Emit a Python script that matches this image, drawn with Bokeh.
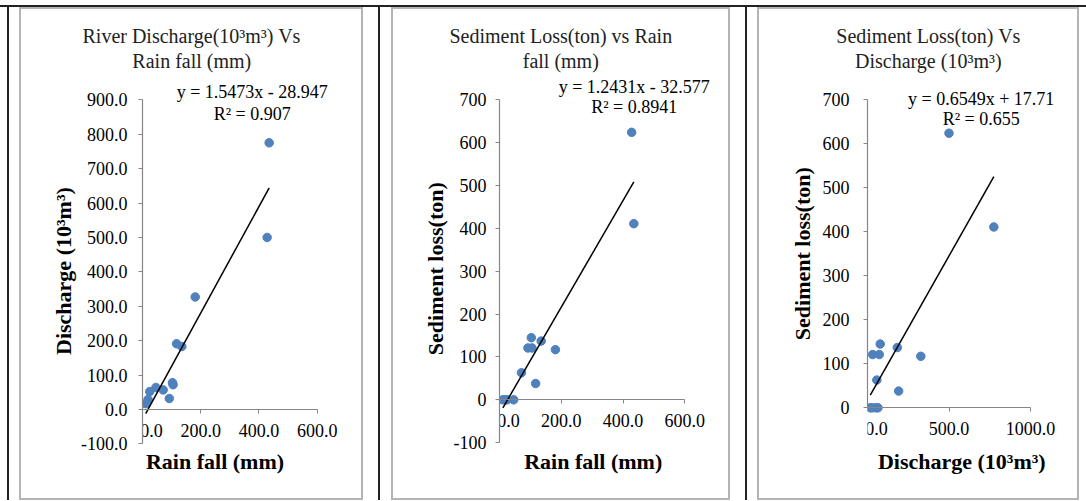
from bokeh.plotting import figure
from bokeh.models import Label, Title, FixedTicker, NumeralTickFormatter, Range1d, Div, Spacer
from bokeh.layouts import row, column
from bokeh.embed import file_html
from bokeh.resources import INLINE

# ---------------- data ----------------
rain = [435, 428, 181, 135, 117, 105, 103, 92, 71, 46, 25, 19, 11]
discharge = [775, 500, 327, 183, 191, 72, 78, 32, 57, 64, 52, 29, 17]
sediment = [411, 624, 117, 137, 38, 121, 145, 121, 63, 0, 0, 0, 0]

titles = [["River Discharge(10³m³) Vs", "Rain fall (mm)"],
          ["Sediment Loss(ton) vs Rain", "fall (mm)"],
          ["Sediment Loss(ton) Vs", "Discharge (10³m³)"]]
x_labels = ["Rain fall (mm)", "Rain fall (mm)", "Discharge (10³m³)"]
y_labels = ["Discharge (10³m³)", "Sediment loss(ton)", "Sediment loss(ton)"]

slopes = [1.5473, 1.2431, 0.6549]
intercepts = [-28.947, -32.577, 17.71]
equations = ["y = 1.5473x - 28.947", "y = 1.2431x - 32.577", "y = 0.6549x + 17.71"]
r2_texts = ["R² = 0.907", "R² = 0.8941", "R² = 0.655"]

x_ticks = [[0, 200, 400, 600], [0, 200, 400, 600], [0, 500, 1000]]
y_ticks = [[-100, 0, 100, 200, 300, 400, 500, 600, 700, 800, 900],
           [-100, 0, 100, 200, 300, 400, 500, 600, 700],
           [0, 100, 200, 300, 400, 500, 600, 700]]
x_bounds = [(0, 600), (0, 600), (0, 1000)]
y_bounds = [(-100, 900), (-100, 700), (0, 700)]
x_formats = ["0.0", "0.0", "0.0"]
y_formats = ["0.0", "0", "0"]

xs_data = [rain, rain, discharge]
ys_data = [discharge, sediment, sediment]

# ---------------- styling / layout ----------------
SERIF = "Liberation Serif"
DOT = "#4F81BD"
AXIS = "#868686"
GRAY = "#B4B4B4"
DARK = "#222222"

# Times / Liberation Serif advance widths (em/1000) used to place titles
_W_REG = {" ": 250, "(": 333, ")": 333, ".": 250, "-": 333, "³": 300, "²": 300, "=": 564,
          "A": 722, "D": 722, "L": 611, "R": 667, "S": 556, "V": 722, "a": 444, "c": 444,
          "d": 500, "e": 444, "f": 333, "g": 500, "h": 500, "i": 278, "l": 278, "m": 778,
          "n": 500, "o": 500, "r": 333, "s": 389, "t": 278, "v": 500, "x": 500, "y": 500}
_W_BOLD = {" ": 250, "(": 333, ")": 333, ".": 250, "³": 300, "D": 722, "R": 722, "S": 556,
           "a": 500, "c": 444, "d": 556, "e": 444, "f": 333, "g": 500, "h": 556, "i": 278,
           "l": 278, "m": 833, "n": 556, "o": 500, "r": 444, "s": 389, "t": 333}


def text_w(s, size, bold=False):
    tbl = _W_BOLD if bold else _W_REG
    return sum(tbl.get(c, 500) for c in s) / 1000 * size


FY, FH = 9, 489          # page y of figures, figure height
FT, FB = 72, 445         # page y of frame top / bottom

geoms = [
    dict(fx=21, fw=340, x0p=142, sx=0.2912, y0p=409.0, sy=0.3441, ytick_sd=11, ylab_sd=5,
         ylab_top=186.7, title_c=191.3, eq=(251.7, 91.7, 113.3), xlab_c=214.5),
    dict(fx=393, fw=335, x0p=499, sx=0.3088, y0p=399.3, sy=0.4286, ytick_sd=9, ylab_sd=6,
         ylab_top=181.7, title_c=560.3, eq=(633.7, 86.0, 106.0), xlab_c=592.7),
    dict(fx=759, fw=318, x0p=867, sx=0.1630, y0p=407.3, sy=0.4400, ytick_sd=14, ylab_sd=10,
         ylab_top=166.7, title_c=928.0, eq=(980.7, 98.3, 118.3), xlab_c=961.3),
]


def make_panel(i):
    g = geoms[i]
    right_page = g["fx"] + g["fw"]

    def X(px):
        return (px - g["x0p"]) / g["sx"]

    def Y(py):
        return (g["y0p"] - py) / g["sy"]

    p = figure(width=g["fw"], height=FH,
               x_range=Range1d(0, X(right_page)), y_range=Range1d(Y(FB), Y(FT)),
               output_backend="svg", toolbar_location=None,
               min_border_left=g["x0p"] - g["fx"], min_border_right=0,
               min_border_top=FT - FY, min_border_bottom=FY + FH - FB)
    p.outline_line_color = None
    p.grid.visible = False
    p.background_fill_color = "white"
    p.border_fill_color = "white"

    xa = p.xaxis[0]
    ya = p.yaxis[0]
    xa.fixed_location = 0
    xa.bounds = x_bounds[i]
    ya.bounds = y_bounds[i]
    for ax in (xa, ya):
        ax.axis_line_color = AXIS
        ax.axis_line_width = 1.2
        ax.major_tick_line_color = AXIS
        ax.minor_tick_line_color = None
        ax.major_tick_in = 0
        ax.major_tick_out = 4
        ax.major_label_text_font = SERIF
        ax.major_label_text_font_size = "18px"
        ax.major_label_text_color = "black"
    xa.ticker = FixedTicker(ticks=x_ticks[i])
    ya.ticker = FixedTicker(ticks=y_ticks[i])
    xa.formatter = NumeralTickFormatter(format=x_formats[i])
    ya.formatter = NumeralTickFormatter(format=y_formats[i])
    # the 0.0 label sits on the y axis; pad it so it is not cut by the plot edge
    xa.major_label_overrides = {0: "\u2007\u20070.0"}
    xa.major_label_standoff = 7
    ya.major_label_standoff = g["ytick_sd"]

    # data
    xs = xs_data[i]
    ys = ys_data[i]
    p.scatter(xs, ys, size=8.5, fill_color=DOT, line_color=DOT)
    lo, hi = min(xs), max(xs)
    p.line([lo, hi], [slopes[i] * lo + intercepts[i], slopes[i] * hi + intercepts[i]],
           line_color="black", line_width=1.5)

    # trendline equation
    ex, ey1, ey2 = g["eq"]
    for txt, ty in ((equations[i], ey1), (r2_texts[i], ey2)):
        p.add_layout(Label(x=X(ex), y=Y(ty), text=txt, text_font=SERIF, text_font_size="18px",
                           text_align="center", text_baseline="middle", text_color="black"))

    # x axis title (below the plot area)
    xoff = g["xlab_c"] - text_w(x_labels[i], 22, bold=True) / 2 - g["x0p"]
    p.add_layout(Title(text=x_labels[i], align="left", offset=xoff, standoff=2,
                       text_font=SERIF, text_font_size="22px", text_font_style="bold",
                       text_color="black"), "below")

    # y axis title (top end placed like the reference)
    p.add_layout(Title(text=y_labels[i], align="right", offset=g["ylab_top"] - FT,
                       standoff=g["ylab_sd"], text_font=SERIF, text_font_size="22px",
                       text_font_style="bold", text_color="black"), "left")

    # chart title (two lines): second line nearest the frame
    for t in reversed(titles[i]):
        off = g["title_c"] - text_w(t, 20) / 2 - g["x0p"]
        p.add_layout(Title(text=t, align="left", offset=off, standoff=1,
                           text_font=SERIF, text_font_size="20px", text_font_style="normal",
                           text_color=DARK), "above")
    return p


def bar(w, h, color):
    return Div(text="", width=w, height=h, margin=0, styles={"background-color": color})


def gap(w, h=1):
    return Spacer(width=w, height=h, margin=0)


def boxed(p):
    inner = row(bar(2, FH, GRAY), p, bar(2, FH, GRAY), spacing=0, margin=0)
    return column(bar(p.width + 4, 2, GRAY), inner, bar(p.width + 4, 2, GRAY),
                  spacing=0, margin=0)


panels = [make_panel(i) for i in range(3)]
H_ROW = FH + 4
main = row(gap(7), bar(2, H_ROW, DARK), gap(10), boxed(panels[0]),
           gap(15), bar(2, H_ROW, DARK), gap(11), boxed(panels[1]),
           gap(15), bar(2, H_ROW, DARK), gap(10), boxed(panels[2]), gap(7),
           spacing=0, margin=0)
page = column(gap(1086, 5), bar(1086, 2, DARK), main, spacing=0, margin=0)
open("out.html", "w").write(file_html(page, INLINE))
